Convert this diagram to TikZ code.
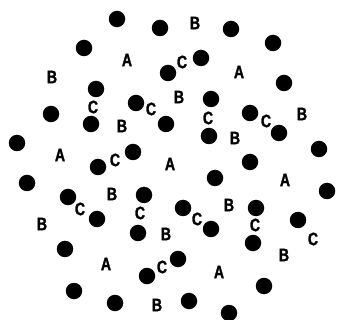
\documentclass[tikz,border=0pt]{standalone}
\usepackage{fontspec}
\newfontfamily\letterfont[FakeStretch=0.78,BoldFeatures={FakeBold=1.5}]{Liberation Sans}
\usepackage{tikz}

\begin{document}
\begin{tikzpicture}[x=1pt,y=-1pt, dot/.style={circle,fill=black,inner sep=0pt,minimum size=16.5pt}, letter/.style={inner sep=0pt,font=\letterfont\bfseries\fontsize{18}{18}\selectfont}]
\useasboundingbox (0,0) rectangle (337,320);
% dots
\foreach \x/\y [count=\i] in {117/19,160/28,231/29,273/43,84/48,168/73,201/58,284/83,96/89,136/103,211/99,51/114,250/113,91/124,166/124,279/133,209/136,17/143,319/149,133/152,98/167,250/162,215/178,27/183,327/191,68/197,144/195,183/208,256/208,298/220,97/219,211/229,138/233,253/243,65/249,178/259,147/276,264/286,74/291,189/301,115/303,229/313}
  \node[dot] (d\i) at (\x,\y) {};
% letters
\foreach \x/\y [count=\i] in {127/60,239/72,60/155,170/164,285/180,106/264,219/272}
  \node[letter] (a\i) at (\x,\y) {A};
\foreach \x/\y [count=\i] in {195/23,52/77,179/97,122/126,302/114,235/138,112/194,42/224,166/234,229/205,284/255,157/305}
  \node[letter] (b\i) at (\x,\y) {B};
\foreach \x/\y [count=\i] in {182/62,93/107,151/109,208/118,266/121,115/160,80/209,140/213,197/219,255/225,313/239,162/267}
  \node[letter] (c\i) at (\x,\y) {C};
\end{tikzpicture}
\end{document}
